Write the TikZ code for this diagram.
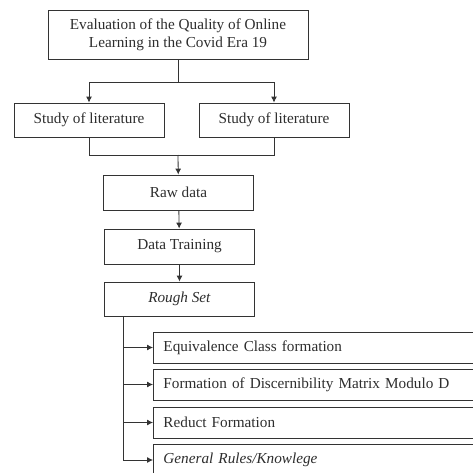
\documentclass[tikz,border=0pt]{standalone}
\usepackage{fontspec}
\setmainfont{Liberation Serif}
\usepackage{xcolor}
\usetikzlibrary{arrows.meta}
\definecolor{boxline}{HTML}{333333}
\definecolor{inkgray}{HTML}{2E2E2E}

\begin{document}
\begin{tikzpicture}[x=0.03cm,y=-0.03cm,every node/.style={font=\fontsize{13}{15}\selectfont,text=inkgray},
    box/.style={draw=boxline,line width=0.8pt,inner sep=2pt,align=center},
    wide/.style={box,anchor=west,minimum height=0.93cm,text width=9.6cm,align=left,inner xsep=0.3cm},
    arr/.style={draw=boxline,line width=0.7pt,-{Latex[length=5pt,width=5pt]}},
    link/.style={draw=boxline,line width=0.7pt}]
    \clip (0,0) rectangle (473,472);
    \fill[white] (0,0) rectangle (473,472);
    % upper part
    \node[box,minimum width=7.8cm,minimum height=1.47cm] (eval) at (178,34.5) {Evaluation of the Quality of Online\\Learning in the Covid Era 19};
    \node[box,minimum width=4.5cm,minimum height=1.02cm] (lit1) at (89,120) {Study of literature};
    \node[box,minimum width=4.5cm,minimum height=1.02cm] (lit2) at (274,120) {Study of literature};
    \coordinate (split) at (178,82);
    \coordinate (join) at (178,155);
    \draw[link] (eval) -- (split);
    \draw[arr] (split) -| (lit1);
    \draw[arr] (split) -| (lit2);
    \draw[link] (lit1) |- (join);
    \draw[link] (lit2) |- (join);
    % middle column
    \node[box,minimum width=4.5cm,minimum height=1.05cm] (raw) at (178.5,192.5) {Raw data};
    \node[box,minimum width=4.5cm,minimum height=1.05cm] (train) at (179.5,246.5) {Data Training};
    \node[box,minimum width=4.5cm,minimum height=1.02cm] (rough) at (179.5,299) {\textit{Rough Set}};
    \draw[arr] (join) -- (raw);
    \draw[arr] (raw) -- (train);
    \draw[arr] (train) -- (rough);
    % rough set steps
    \coordinate (trunk) at (123,316);
    \foreach \y/\name/\label in {
      347.5/eqc/{Equivalence Class formation},
      384.5/disc/{Formation of Discernibility Matrix Modulo D},
      422.5/reduct/{Reduct Formation},
      460/rules/{\textit{General Rules/Knowlege}}
    } {
      \node[wide] (\name) at (153,\y) {\label};
      \draw[arr] (trunk) |- (\name);
    }
\end{tikzpicture}
\end{document}
